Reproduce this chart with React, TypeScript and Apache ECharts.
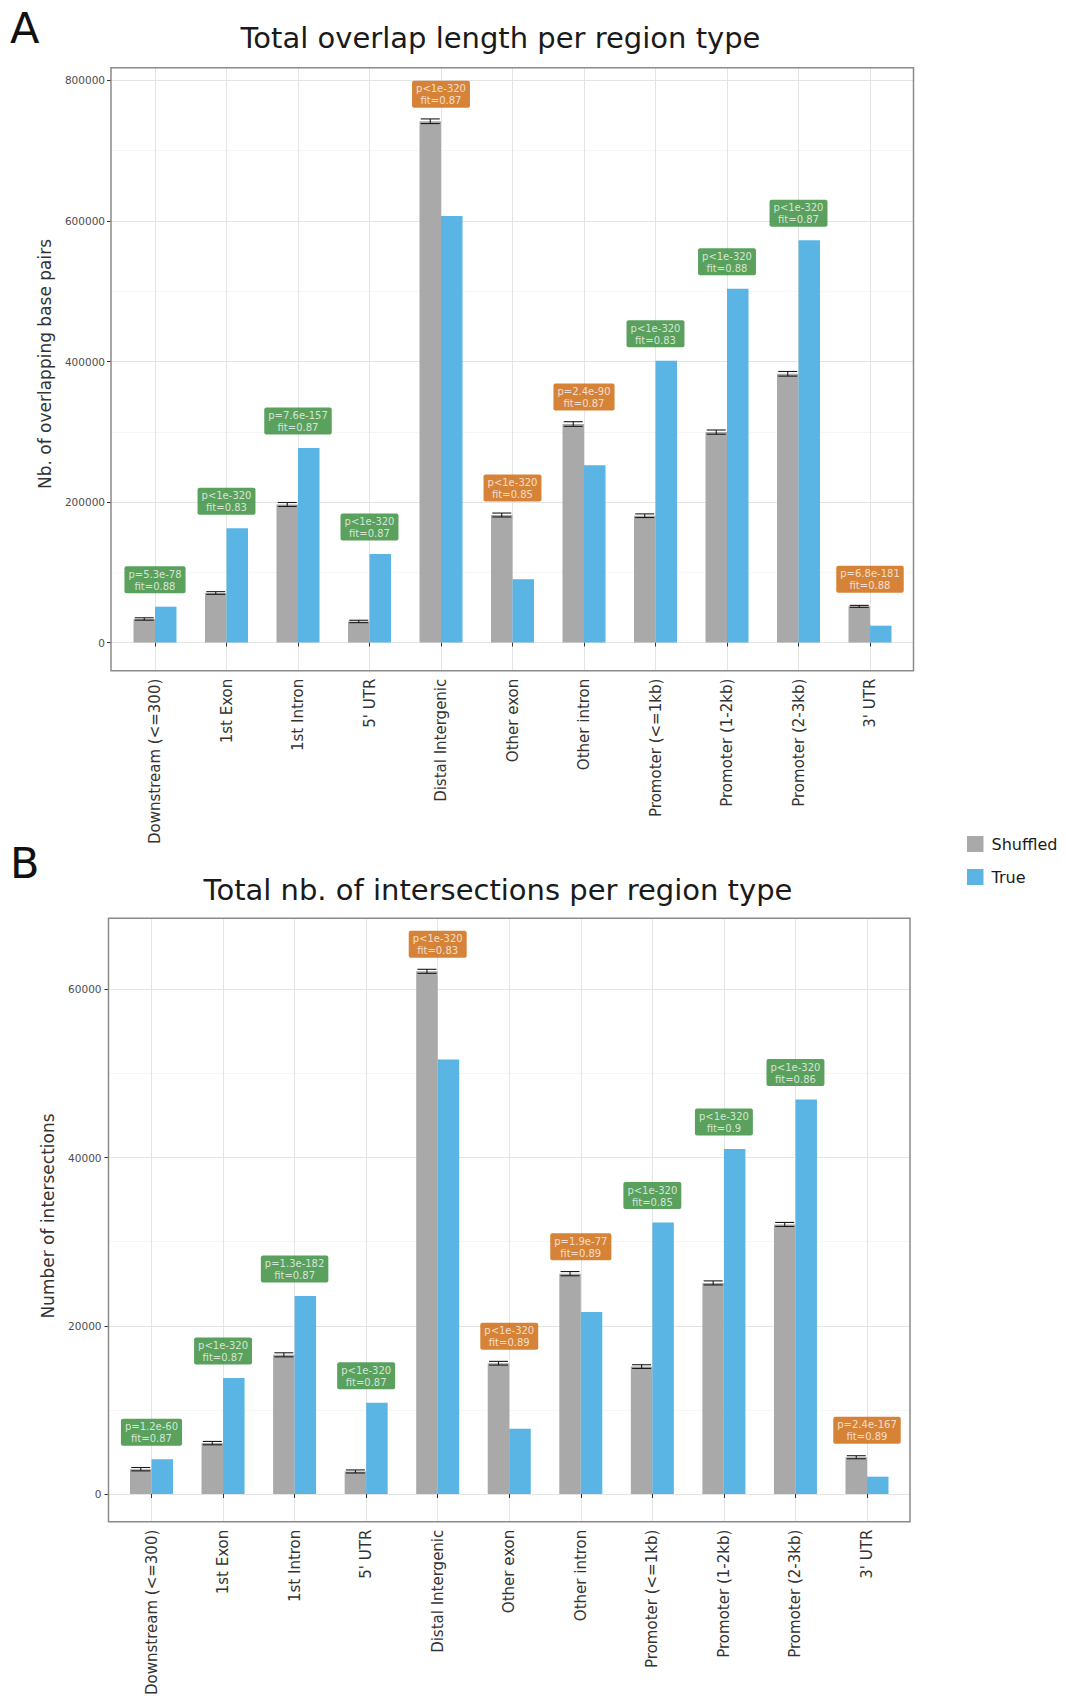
import React, { useEffect, useRef } from 'react';
import * as echarts from 'echarts';

// Region types on the x axis (same order in both panels)
const categories = [
  'Downstream (<=300)',
  '1st Exon',
  '1st Intron',
  "5' UTR",
  'Distal Intergenic',
  'Other exon',
  'Other intron',
  'Promoter (<=1kb)',
  'Promoter (1-2kb)',
  'Promoter (2-3kb)',
  "3' UTR",
];

// Panel A: total overlap length (bp)
const overlapShuffled = [33500, 70500, 196500, 30000, 742000, 181500, 311000, 180500, 299500, 382500, 51500];
const overlapShuffledErr = [1700, 1900, 2800, 1700, 3300, 2800, 3300, 2600, 3000, 3300, 1400];
const overlapTrue = [51000, 162500, 277000, 126000, 607000, 90000, 252500, 401000, 503500, 572500, 24000];
const overlapP = ['p=5.3e-78', 'p<1e-320', 'p=7.6e-157', 'p<1e-320', 'p<1e-320', 'p<1e-320', 'p=2.4e-90', 'p<1e-320', 'p<1e-320', 'p<1e-320', 'p=6.8e-181'];
const overlapFit = ['0.88', '0.83', '0.87', '0.87', '0.87', '0.85', '0.87', '0.83', '0.88', '0.87', '0.88'];
const overlapTicks = [0, 200000, 400000, 600000, 800000];

// Panel B: total number of intersections
const intersectShuffled = [2950, 6050, 16550, 2680, 62150, 15550, 26200, 15150, 25100, 32050, 4370];
const intersectShuffledErr = [200, 200, 240, 180, 240, 220, 250, 220, 240, 240, 180];
const intersectTrue = [4130, 13800, 23550, 10850, 51650, 7750, 21650, 32280, 41030, 46900, 2060];
const intersectP = ['p=1.2e-60', 'p<1e-320', 'p=1.3e-182', 'p<1e-320', 'p<1e-320', 'p<1e-320', 'p=1.9e-77', 'p<1e-320', 'p<1e-320', 'p<1e-320', 'p=2.4e-167'];
const intersectFit = ['0.87', '0.87', '0.87', '0.87', '0.83', '0.89', '0.89', '0.85', '0.9', '0.86', '0.89'];
const intersectTicks = [0, 20000, 40000, 60000];

const FONT = 'DejaVu Sans';
const SHUFFLED_COLOR = '#a9a9a9';
const TRUE_COLOR = '#5ab4e4';
const ENRICHED_COLOR = '#2f8a35';
const DEPLETED_COLOR = '#cd6405';
const GRID_MAJOR = '#e4e4e4';
const GRID_MINOR = '#f2f2f2';
const BAR_W = 21.5;
const CAP_W = 19;

type PanelSpec = {
  shuffled: number[];
  err: number[];
  truth: number[];
  p: string[];
  fit: string[];
  ticks: number[];
  box: { left: number; top: number; right: number; bottom: number };
  yRange: [number, number];
  catFirst: number;
  catLast: number;
  tickLabelMargin: number;
};

const panels: PanelSpec[] = [
  {
    shuffled: overlapShuffled,
    err: overlapShuffledErr,
    truth: overlapTrue,
    p: overlapP,
    fit: overlapFit,
    ticks: overlapTicks,
    box: { left: 111, top: 67.7, right: 913.5, bottom: 670.7 },
    yRange: [-40100, 818200],
    catFirst: 155,
    catLast: 870,
    tickLabelMargin: 6,
  },
  {
    shuffled: intersectShuffled,
    err: intersectShuffledErr,
    truth: intersectTrue,
    p: intersectP,
    fit: intersectFit,
    ticks: intersectTicks,
    box: { left: 108.5, top: 918.3, right: 910, bottom: 1521.7 },
    yRange: [-3294, 68454],
    catFirst: 151.5,
    catLast: 867,
    tickLabelMargin: 7,
  },
];

function buildOption() {
  const grid: any[] = [];
  const xAxis: any[] = [];
  const yAxis: any[] = [];
  const series: any[] = [];

  panels.forEach((pn, k) => {
    const base = k * 3;
    const { box, yRange, ticks } = pn;
    const h = box.bottom - box.top;
    const toPix = (v: number) => box.top + ((yRange[1] - v) / (yRange[1] - yRange[0])) * h;
    const tMin = ticks[0];
    const tMax = ticks[ticks.length - 1];

    // panel frame
    grid.push({
      left: box.left,
      top: box.top,
      width: box.right - box.left,
      height: h,
      show: true,
      borderColor: '#8a8a8a',
      borderWidth: 1.5,
      backgroundColor: 'transparent',
      z: 5,
      outerBoundsMode: 'none',
    });
    xAxis.push({ type: 'value', gridIndex: base, show: false });
    yAxis.push({ type: 'value', gridIndex: base, show: false });

    // horizontal grid lines + y tick labels
    grid.push({
      left: box.left,
      top: toPix(tMax),
      width: box.right - box.left,
      height: toPix(tMin) - toPix(tMax),
      outerBoundsMode: 'none',
    });
    xAxis.push({ type: 'value', gridIndex: base + 1, show: false });
    yAxis.push({
      type: 'value',
      gridIndex: base + 1,
      min: tMin,
      max: tMax,
      interval: ticks[1] - ticks[0],
      axisLine: { show: false },
      axisTick: { show: true, length: 4, lineStyle: { color: '#333333', width: 1 } },
      axisLabel: {
        fontSize: 10.5,
        color: '#4d4d4d',
        fontFamily: FONT,
        margin: pn.tickLabelMargin,
        formatter: (v: number) => String(v),
      },
      splitLine: { show: true, lineStyle: { color: GRID_MAJOR, width: 1 } },
      minorTick: { show: false, splitNumber: 2 },
      minorSplitLine: { show: true, lineStyle: { color: GRID_MINOR, width: 0.7 } },
    });

    // bars, error bars and labels
    grid.push({
      left: pn.catFirst,
      top: box.top,
      width: pn.catLast - pn.catFirst,
      height: h,
      outerBoundsMode: 'none',
    });
    xAxis.push({
      type: 'category',
      gridIndex: base + 2,
      data: categories,
      boundaryGap: false,
      position: 'bottom',
      axisLine: { show: false },
      axisTick: { show: true, interval: 0, length: 4, lineStyle: { color: '#333333', width: 1 } },
      axisLabel: {
        interval: 0,
        rotate: 90,
        fontSize: 15,
        color: '#333333',
        fontFamily: FONT,
        margin: 8,
      },
      splitLine: { show: true, interval: 0, lineStyle: { color: GRID_MAJOR, width: 1 } },
    });
    yAxis.push({
      type: 'value',
      gridIndex: base + 2,
      min: yRange[0],
      max: yRange[1],
      show: false,
      splitLine: { show: false },
    });

    series.push({
      name: 'Shuffled',
      type: 'bar',
      xAxisIndex: base + 2,
      yAxisIndex: base + 2,
      data: pn.shuffled,
      barWidth: BAR_W,
      barGap: '0%',
      clip: false,
      itemStyle: { color: SHUFFLED_COLOR },
      z: 2,
    });
    series.push({
      name: 'True',
      type: 'bar',
      xAxisIndex: base + 2,
      yAxisIndex: base + 2,
      data: pn.truth,
      barWidth: BAR_W,
      barGap: '0%',
      clip: false,
      itemStyle: { color: TRUE_COLOR },
      z: 2,
    });
    series.push({
      name: 'shuffled-sd',
      type: 'custom',
      xAxisIndex: base + 2,
      yAxisIndex: base + 2,
      data: pn.shuffled.map((v, i) => [i, v, pn.err[i]]),
      encode: { x: 0, y: 1 },
      z: 3,
      silent: true,
      renderItem: (params: any, api: any) => {
        const i = api.value(0);
        const v = api.value(1);
        const e = api.value(2);
        const hi = api.coord([i, v + e]);
        const lo = api.coord([i, v - e]);
        const x = hi[0] - BAR_W / 2;
        const hw = CAP_W / 2;
        const style = { stroke: '#1a1a1a', lineWidth: 1.1 };
        return {
          type: 'group',
          children: [
            { type: 'line', shape: { x1: x, y1: hi[1], x2: x, y2: lo[1] }, style },
            { type: 'line', shape: { x1: x - hw, y1: hi[1], x2: x + hw, y2: hi[1] }, style },
            { type: 'line', shape: { x1: x - hw, y1: lo[1], x2: x + hw, y2: lo[1] }, style },
          ],
        };
      },
    });
    series.push({
      name: 'test-labels',
      type: 'scatter',
      xAxisIndex: base + 2,
      yAxisIndex: base + 2,
      symbolSize: 1,
      silent: true,
      z: 4,
      itemStyle: { color: 'rgba(0,0,0,0)' },
      data: pn.shuffled.map((s, i) => ({
        value: [i, Math.max(s, pn.truth[i])],
        label: {
          backgroundColor: pn.truth[i] > s ? ENRICHED_COLOR : DEPLETED_COLOR,
          formatter: `${pn.p[i]}\nfit=${pn.fit[i]}`,
        },
      })),
      label: {
        show: true,
        position: 'top',
        distance: 13,
        color: '#f7f7f7',
        fontSize: 10,
        lineHeight: 12,
        fontFamily: FONT,
        align: 'center',
        padding: [2, 4, 1, 4],
        borderRadius: 2,
      },
    });
  });

  const graphic: any[] = [
    { type: 'text', x: 10, y: 27.5, style: { text: 'A', fontSize: 43, fontFamily: FONT, fill: '#111', textVerticalAlign: 'middle' } },
    { type: 'text', x: 10, y: 863, style: { text: 'B', fontSize: 43, fontFamily: FONT, fill: '#111', textVerticalAlign: 'middle' } },
    {
      type: 'text', x: 500.5, y: 38,
      style: { text: 'Total overlap length per region type', fontSize: 29, fontFamily: FONT, fill: '#1a1a1a', textAlign: 'center', textVerticalAlign: 'middle' },
    },
    {
      type: 'text', x: 498, y: 890,
      style: { text: 'Total nb. of intersections per region type', fontSize: 29, fontFamily: FONT, fill: '#1a1a1a', textAlign: 'center', textVerticalAlign: 'middle' },
    },
    {
      type: 'text', x: 45, y: 364, rotation: Math.PI / 2,
      style: { text: 'Nb. of overlapping base pairs', fontSize: 17, fontFamily: FONT, fill: '#333', textAlign: 'center', textVerticalAlign: 'middle' },
    },
    {
      type: 'text', x: 48, y: 1216, rotation: Math.PI / 2,
      style: { text: 'Number of intersections', fontSize: 17, fontFamily: FONT, fill: '#333', textAlign: 'center', textVerticalAlign: 'middle' },
    },
  ];

  return {
    animation: false,
    backgroundColor: '#ffffff',
    textStyle: { fontFamily: FONT },
    grid,
    xAxis,
    yAxis,
    series,
    graphic,
    legend: {
      data: ['Shuffled', 'True'],
      orient: 'vertical',
      left: 967,
      top: 836,
      padding: 0,
      itemWidth: 16.5,
      itemHeight: 16,
      itemGap: 17,
      icon: 'rect',
      selectedMode: false,
      textStyle: { fontSize: 16, lineHeight: 16, color: '#1a1a1a', fontFamily: FONT, padding: [0, 0, 0, 3] },
    },
  };
}

export default function App() {
  const ref = useRef<HTMLDivElement>(null);
  useEffect(() => {
    if (!ref.current) return;
    const chart = echarts.init(ref.current, undefined, { renderer: 'svg' });
    chart.setOption(buildOption() as any);
    return () => chart.dispose();
  }, []);
  return (
    <div
      ref={ref}
      style={{ position: 'absolute', left: 0, top: 0, width: 1066, height: 1696, background: '#fff' }}
    />
  );
}
